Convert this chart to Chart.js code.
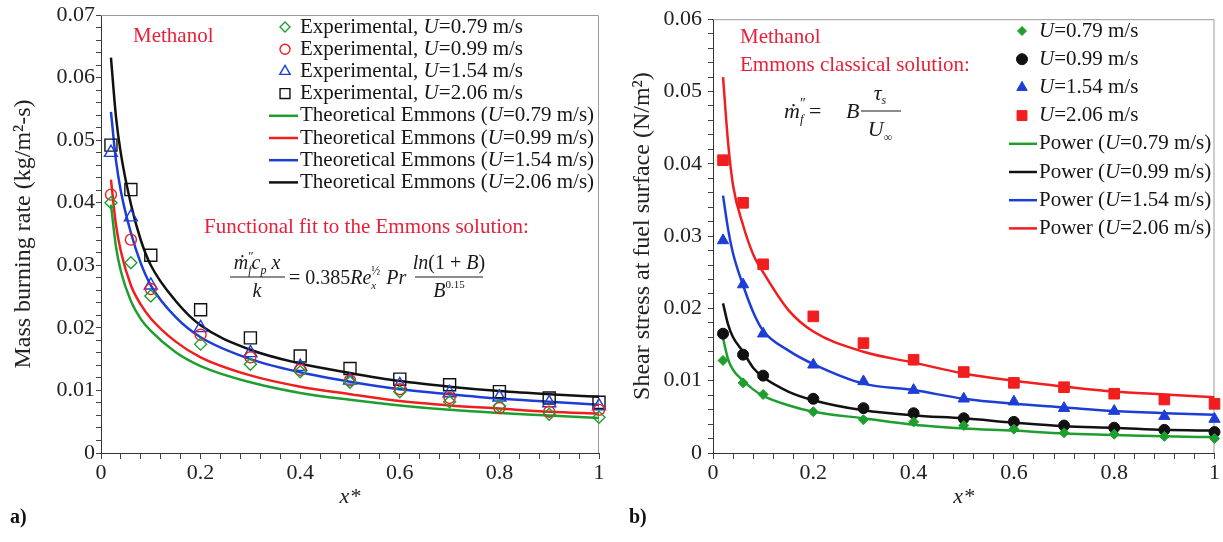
<!DOCTYPE html>
<html>
<head>
<meta charset="utf-8">
<script src="https://cdn.jsdelivr.net/npm/chart.js@4.4.1/dist/chart.umd.min.js"></script>
<style>
  html, body { margin: 0; padding: 0; background: #fff; }
  #wrap { position: relative; width: 1223px; height: 542px; }
  #wrap canvas { position: absolute; top: 0; }
</style>
</head>
<body>
<div id="wrap">
  <canvas id="burn" width="611" height="542" style="left:0"></canvas>
  <canvas id="shear" width="612" height="542" style="left:611px"></canvas>
</div>
<script>
const serif = "'Liberation Serif', 'Times New Roman', serif";

// x* where the measurements sit
const xExp = [0.02, 0.06, 0.1, 0.2, 0.3, 0.4, 0.5, 0.6, 0.7, 0.8, 0.9, 1.0];
const xFit = [0.02, 0.03, 0.04, 0.06, 0.08, 0.1, 0.15, 0.2, 0.3, 0.4, 0.5, 0.6, 0.7, 0.8, 0.9, 1.0];

const speeds = ['0.79', '0.99', '1.54', '2.06'];

// (a) mass burning rate, kg/m2-s
const burnExp079 = [0.0400, 0.0304, 0.0251, 0.0174, 0.0142, 0.0130, 0.0113, 0.0098, 0.0082, 0.0075, 0.0062, 0.0057];
const burnExp099 = [0.0413, 0.0341, 0.0262, 0.0189, 0.0153, 0.0133, 0.0116, 0.0102, 0.0088, 0.0072, 0.0066, 0.0069];
const burnExp154 = [0.0480, 0.0377, 0.0268, 0.0200, 0.0160, 0.0138, 0.0116, 0.0109, 0.0096, 0.0089, 0.0080, 0.0075];
const burnExp206 = [0.0492, 0.0421, 0.0316, 0.0229, 0.0184, 0.0155, 0.0135, 0.0118, 0.0109, 0.0098, 0.0088, 0.0081];

const burnFit079 = [0.0397, 0.0330, 0.0290, 0.0243, 0.0214, 0.0195, 0.0161, 0.0139, 0.0113, 0.0096, 0.0085, 0.0076, 0.0069, 0.0064, 0.0060, 0.0056];
const burnFit099 = [0.0437, 0.0365, 0.0322, 0.0268, 0.0237, 0.0215, 0.0178, 0.0153, 0.0124, 0.0106, 0.0094, 0.0083, 0.0076, 0.0071, 0.0066, 0.0063];
const burnFit154 = [0.0545, 0.0468, 0.0418, 0.0352, 0.0303, 0.0268, 0.0217, 0.0185, 0.0150, 0.0129, 0.0114, 0.0102, 0.0094, 0.0087, 0.0082, 0.0077];
const burnFit206 = [0.0632, 0.0538, 0.0478, 0.0398, 0.0340, 0.0300, 0.0243, 0.0204, 0.0165, 0.0143, 0.0128, 0.0115, 0.0106, 0.0099, 0.0094, 0.0090];

// (b) shear stress at the fuel surface, N/m2
const shearExp079 = [0.0128, 0.0097, 0.0081, 0.0057, 0.0046, 0.0043, 0.0038, 0.0033, 0.0028, 0.0026, 0.0023, 0.0020];
const shearExp099 = [0.0165, 0.0136, 0.0107, 0.0075, 0.0062, 0.0055, 0.0048, 0.0043, 0.0038, 0.0035, 0.0032, 0.0029];
const shearExp154 = [0.0294, 0.0233, 0.0165, 0.0122, 0.0099, 0.0087, 0.0075, 0.0071, 0.0062, 0.0058, 0.0051, 0.0047];
const shearExp206 = [0.0405, 0.0346, 0.0261, 0.0189, 0.0152, 0.0129, 0.0112, 0.0097, 0.0091, 0.0082, 0.0074, 0.0068];

const shearFit079 = [0.0159, 0.0130, 0.0115, 0.0100, 0.0088, 0.0079, 0.0066, 0.0057, 0.0048, 0.0039, 0.0034, 0.0031, 0.0027, 0.0025, 0.0023, 0.0022];
const shearFit099 = [0.0207, 0.0178, 0.0160, 0.0140, 0.0118, 0.0105, 0.0085, 0.0073, 0.0059, 0.0052, 0.0048, 0.0042, 0.0037, 0.0035, 0.0032, 0.0031];
const shearFit154 = [0.0356, 0.0310, 0.0276, 0.0232, 0.0195, 0.0169, 0.0142, 0.0123, 0.0096, 0.0087, 0.0075, 0.0068, 0.0063, 0.0058, 0.0055, 0.0053];
const shearFit206 = [0.0520, 0.0430, 0.0370, 0.0315, 0.0275, 0.0250, 0.0198, 0.0168, 0.0140, 0.0125, 0.0110, 0.0100, 0.0092, 0.0085, 0.0081, 0.0077];

const GREEN = '#1f9e30', RED = '#f01e1e', BLUE = '#1c3ed6', BLACK = '#111';
const TXT_RED = '#e8203a';

const pts = (xs, ys) => xs.map((x, i) => ({ x: x, y: ys[i] }));

// text with the velocity symbol U in italics
function drawLabel(ctx, text, x, y, size) {
  let cx = x;
  text.split(/(U)(?==)/).forEach(p => {
    if (!p) return;
    ctx.font = (p === 'U' ? 'italic ' : '') + size + 'px ' + serif;
    ctx.fillText(p, cx, y);
    cx += ctx.measureText(p).width;
  });
}

// runs of formula text: {t, i (italic), s (size), dy, adv}
function runs(ctx, items, x, y, measureOnly) {
  let cx = x;
  items.forEach(r => {
    ctx.font = (r.i ? 'italic ' : '') + r.s + 'px ' + serif;
    if (!measureOnly) ctx.fillText(r.t, cx, y + (r.dy || 0));
    if (r.adv !== false) cx += ctx.measureText(r.t).width;
  });
  return cx - x;
}
function centred(ctx, items, cx, y) {
  const w = runs(ctx, items, 0, 0, true);
  runs(ctx, items, cx - w / 2, y);
}
function bar(ctx, x0, x1, y) {
  ctx.beginPath();
  ctx.moveTo(x0, y);
  ctx.lineTo(x1, y);
  ctx.stroke();
}

const frame = {
  id: 'frame',
  beforeDatasetsDraw(chart) {
    const { ctx, chartArea: a } = chart;
    ctx.save();
    ctx.strokeStyle = '#9a9a9a';
    ctx.lineWidth = 1;
    ctx.beginPath();
    ctx.moveTo(a.left, a.top + 0.5);
    ctx.lineTo(a.right - 0.5, a.top + 0.5);
    ctx.lineTo(a.right - 0.5, a.bottom);
    ctx.stroke();
    ctx.restore();
  }
};

const insideLegend = {
  id: 'insideLegend',
  afterDraw(chart, args, o) {
    const ctx = chart.ctx;
    ctx.save();
    ctx.textBaseline = 'middle';
    chart.data.datasets.forEach((ds, i) => {
      const y = o.top + i * o.gap;
      if (ds.showLine) {
        ctx.strokeStyle = ds.borderColor;
        ctx.lineWidth = ds.borderWidth;
        bar(ctx, o.lineFrom, o.lineTo, y);
      } else {
        ctx.fillStyle = ds.backgroundColor;
        ctx.strokeStyle = ds.borderColor;
        ctx.lineWidth = ds.borderWidth;
        Chart.helpers.drawPoint(ctx, {
          pointStyle: ds.pointStyle, radius: ds.legendRadius, rotation: 0, borderWidth: ds.borderWidth
        }, o.markerX, y);
      }
      ctx.fillStyle = '#151515';
      drawLabel(ctx, ds.label, o.textX, y, o.size);
    });
    ctx.restore();
  }
};

const notes = {
  id: 'notes',
  afterDraw(chart, args, o) {
    const ctx = chart.ctx;
    ctx.save();
    o.draw(ctx);
    ctx.restore();
  }
};

function tickFmt(step) {
  return v => {
    const k = v / step;
    return Math.abs(k - Math.round(k)) < 1e-6 ? String(Math.round(k * step * 100) / 100) : '';
  };
}

function baseOptions(yMax, yTitle, yTitlePad, rightPad) {
  return {
    responsive: false,
    animation: false,
    layout: { padding: { left: 0, right: rightPad, top: 15, bottom: 0 } },
    plugins: { legend: { display: false }, tooltip: { enabled: false } },
    scales: {
      x: {
        type: 'linear', min: 0, max: 1,
        afterFit: s => { s.height = 89; },
        border: { display: true, color: '#333', width: 1 },
        grid: { drawOnChartArea: false, tickLength: 6, color: '#444' },
        ticks: {
          stepSize: 0.04, autoSkip: false, maxRotation: 0, padding: 1,
          color: '#222', font: { family: serif, size: 22 },
          callback: tickFmt(0.2)
        },
        title: {
          display: true, text: 'x*', color: '#222',
          font: { family: serif, size: 22, style: 'italic' },
          padding: { top: 0, bottom: 32 }
        }
      },
      y: {
        type: 'linear', min: 0, max: yMax,
        afterFit: s => { s.width = rightPad > 8 ? 101 : 102; },
        border: { display: true, color: '#333', width: 1 },
        grid: { drawOnChartArea: false, tickLength: 5, color: '#444' },
        ticks: {
          stepSize: 0.002, autoSkip: false, padding: rightPad > 8 ? 1 : 6,
          color: '#222', font: { family: serif, size: 22 },
          callback: tickFmt(0.01)
        },
        title: {
          display: true, text: yTitle, color: '#222',
          font: { family: serif, size: 24 },
          padding: { top: yTitlePad, bottom: 0 }
        }
      }
    }
  };
}

function markerSet(label, ys, color, style, r, lr, filled) {
  return {
    type: 'scatter', label: label, data: pts(xExp, ys),
    pointStyle: style, pointRadius: r, legendRadius: lr,
    borderColor: color, backgroundColor: filled ? color : 'rgba(0,0,0,0)',
    borderWidth: filled ? 1 : 1.4, showLine: false, clip: false
  };
}
function curveSet(label, ys, color) {
  return {
    type: 'line', label: label, data: pts(xFit, ys),
    borderColor: color, backgroundColor: color, borderWidth: 2.5,
    pointRadius: 0, showLine: true, fill: false,
    cubicInterpolationMode: 'monotone'
  };
}

// ---- (a) mass burning rate ----
const burnOpts = baseOptions(0.07, 'Mass burning rate (kg/m²-s)', 9, 12);
burnOpts.plugins.insideLegend = { top: 27, gap: 22.2, markerX: 285, lineFrom: 269, lineTo: 298, textX: 300, size: 21 };
burnOpts.plugins.notes = {
  draw(ctx) {
    ctx.fillStyle = TXT_RED;
    ctx.textBaseline = 'middle';
    ctx.font = '21px ' + serif;
    ctx.fillText('Methanol', 133, 36);
    ctx.fillText('Functional fit to the Emmons solution:', 204, 227);

    ctx.fillStyle = '#1a1a1a';
    ctx.strokeStyle = '#1a1a1a';
    ctx.lineWidth = 1.2;
    ctx.textBaseline = 'alphabetic';
    centred(ctx, [
      { t: 'ṁ', i: 1, s: 20 }, { t: '″', s: 13, dy: -9, adv: false }, { t: 'f', i: 1, s: 12, dy: 5 },
      { t: 'c', i: 1, s: 20 }, { t: 'p', i: 1, s: 12, dy: 5 }, { t: ' x', i: 1, s: 20 }
    ], 257, 269);
    bar(ctx, 230, 285, 277);
    centred(ctx, [{ t: 'k', i: 1, s: 20 }], 257, 297);
    runs(ctx, [
      { t: '= ', s: 20 }, { t: '0.385', s: 20 }, { t: 'Re', i: 1, s: 20 },
      { t: '½', s: 12, dy: -9, adv: false }, { t: 'x', i: 1, s: 11, dy: 5 }, { t: '  Pr', i: 1, s: 20 }
    ], 289, 284);
    centred(ctx, [
      { t: 'ln', i: 1, s: 20 }, { t: '(1 + ', s: 20 }, { t: 'B', i: 1, s: 20 }, { t: ')', s: 20 }
    ], 449, 269);
    bar(ctx, 415, 483, 277);
    centred(ctx, [{ t: 'B', i: 1, s: 20 }, { t: '0.15', s: 11, dy: -9 }], 449, 297);

    ctx.fillStyle = '#111';
    ctx.font = 'bold 20px ' + serif;
    ctx.textBaseline = 'middle';
    ctx.fillText('a)', 10, 518);
  }
};

new Chart(document.getElementById('burn'), {
  type: 'scatter',
  data: {
    datasets: [
      markerSet('Experimental, U=' + speeds[0] + ' m/s', burnExp079, GREEN, 'rectRot', 6, 5, false),
      markerSet('Experimental, U=' + speeds[1] + ' m/s', burnExp099, RED, 'circle', 5.5, 5, false),
      markerSet('Experimental, U=' + speeds[2] + ' m/s', burnExp154, BLUE, 'triangle', 7.5, 6, false),
      markerSet('Experimental, U=' + speeds[3] + ' m/s', burnExp206, BLACK, 'rect', 8.5, 7, false),
      curveSet('Theoretical Emmons (U=' + speeds[0] + ' m/s)', burnFit079, GREEN),
      curveSet('Theoretical Emmons (U=' + speeds[1] + ' m/s)', burnFit099, RED),
      curveSet('Theoretical Emmons (U=' + speeds[2] + ' m/s)', burnFit154, BLUE),
      curveSet('Theoretical Emmons (U=' + speeds[3] + ' m/s)', burnFit206, BLACK)
    ]
  },
  options: burnOpts,
  plugins: [frame, insideLegend, notes]
});

// ---- (b) shear stress ----
const shearOpts = baseOptions(0.06, 'Shear stress at fuel surface (N/m²)', 17, 6);
shearOpts.plugins.insideLegend = { top: 31, gap: 28.2, markerX: 411, lineFrom: 398, lineTo: 426, textX: 428, size: 21 };
shearOpts.plugins.notes = {
  draw(ctx) {
    ctx.fillStyle = TXT_RED;
    ctx.textBaseline = 'middle';
    ctx.font = '21px ' + serif;
    ctx.fillText('Methanol', 129, 37);
    ctx.fillText('Emmons classical solution:', 129, 65);

    ctx.fillStyle = '#1a1a1a';
    ctx.strokeStyle = '#1a1a1a';
    ctx.lineWidth = 1.2;
    ctx.textBaseline = 'alphabetic';
    runs(ctx, [
      { t: 'ṁ', i: 1, s: 22 }, { t: '″', s: 14, dy: -10, adv: false }, { t: 'f', i: 1, s: 13, dy: 5 },
      { t: ' =', s: 22 }
    ], 173, 118);
    runs(ctx, [{ t: 'B', i: 1, s: 22 }], 235, 118);
    centred(ctx, [{ t: 'τ', i: 1, s: 22 }, { t: 's', i: 1, s: 12, dy: 4 }], 269, 100);
    bar(ctx, 250, 290, 111);
    centred(ctx, [{ t: 'U', i: 1, s: 22 }, { t: '∞', s: 12, dy: 5 }], 269, 136);

    ctx.fillStyle = '#111';
    ctx.font = 'bold 20px ' + serif;
    ctx.textBaseline = 'middle';
    ctx.fillText('b)', 18, 518);
  }
};

new Chart(document.getElementById('shear'), {
  type: 'scatter',
  data: {
    datasets: [
      markerSet('U=' + speeds[0] + ' m/s', shearExp079, GREEN, 'rectRot', 5, 4.5, true),
      markerSet('U=' + speeds[1] + ' m/s', shearExp099, BLACK, 'circle', 5.5, 5.5, true),
      markerSet('U=' + speeds[2] + ' m/s', shearExp154, BLUE, 'triangle', 6.5, 6, true),
      markerSet('U=' + speeds[3] + ' m/s', shearExp206, RED, 'rect', 7.5, 7, true),
      curveSet('Power (U=' + speeds[0] + ' m/s)', shearFit079, GREEN),
      curveSet('Power (U=' + speeds[1] + ' m/s)', shearFit099, BLACK),
      curveSet('Power (U=' + speeds[2] + ' m/s)', shearFit154, BLUE),
      curveSet('Power (U=' + speeds[3] + ' m/s)', shearFit206, RED)
    ]
  },
  options: shearOpts,
  plugins: [frame, insideLegend, notes]
});
</script>
</body>
</html>
